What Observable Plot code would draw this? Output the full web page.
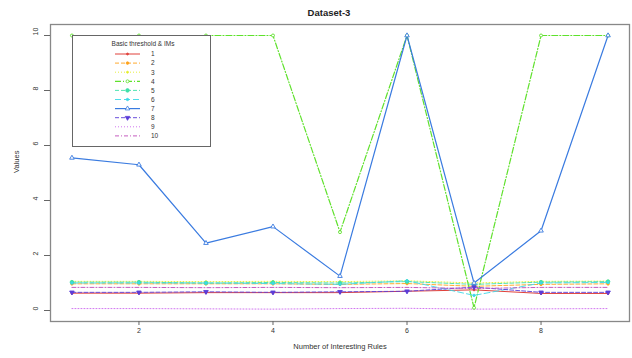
<!DOCTYPE html>
<html>
<head>
<meta charset="utf-8">
<script src="https://cdn.jsdelivr.net/npm/d3@7"></script>
<script src="https://cdn.jsdelivr.net/npm/@observablehq/plot@0.6"></script>
<style>
  html, body { margin: 0; padding: 0; background: #fff; }
  #wrap { position: relative; width: 632px; height: 358px; font-family: "Liberation Sans", Arial, sans-serif; }
  #legend { position: absolute; left: 72px; top: 35px; width: 139px; height: 112px; background: #fff; border: 1px solid #666; box-sizing: border-box; }
</style>
</head>
<body>
<div id="wrap"></div>
<script>
// ---- data ----
const xs = [1, 2, 3, 4, 5, 6, 7, 8, 9];
const seriesNames = ["1", "2", "3", "4", "5", "6", "7", "8", "9", "10"];
const s1  = [0.63, 0.63, 0.65, 0.65, 0.65, 0.70, 0.75, 0.62, 0.62];
const s2  = [0.97, 0.97, 0.97, 0.97, 0.95, 0.98, 0.88, 0.95, 0.97];
const s3  = [1.06, 1.06, 1.05, 1.06, 1.05, 1.08, 1.00, 1.06, 1.07];
const s4  = [10, 10, 10, 10, 2.85, 10, 0.10, 10, 10];
const s5  = [1.03, 1.03, 1.00, 1.02, 1.00, 1.05, 0.95, 1.03, 1.05];
const s6  = [1.00, 1.00, 1.00, 0.98, 0.95, 1.08, 0.55, 1.00, 1.02];
const s7  = [5.55, 5.30, 2.45, 3.05, 1.25, 10, 1.00, 2.90, 10];
const s8  = [0.66, 0.66, 0.68, 0.66, 0.68, 0.70, 0.85, 0.66, 0.66];
const s9  = [0.07, 0.07, 0.06, 0.05, 0.07, 0.08, 0.05, 0.06, 0.07];
const s10 = [0.84, 0.84, 0.83, 0.84, 0.83, 0.84, 0.80, 0.84, 0.84];
const seriesValues = [s1, s2, s3, s4, s5, s6, s7, s8, s9, s10];
const xTicks = [2, 4, 6, 8];
const yTicks = [0, 2, 4, 6, 8, 10];
const titleText = "Dataset-3";
const xLabel = "Number of Interesting Rules";
const yLabel = "Values";
const legendTitle = "Basic threshold & IMs";

// ---- styles ----
const colors = ["#e0403a", "#ffa21a", "#e4ee2a", "#5fe12c", "#3fe0a8", "#3cd8e6", "#3a7be0", "#5a3cd8", "#cc66ee", "#c04ab8"];
const dashes = [null, "4,2", "1,2", "6,2,1,2", "4,2", "6,3", null, "4,2", "1,2", "4,2,1,2"];
const widths = [1, 0.9, 0.9, 1.2, 0.9, 0.9, 1.2, 0.9, 0.9, 0.9];
const markers = [
  {symbol: "circle", r: 1.0, fill: true},
  {symbol: "circle", r: 1.3, fill: true},
  {symbol: "circle", r: 1.0, fill: true},
  {symbol: "circle", r: 1.5, fill: false},
  {symbol: "circle", r: 1.8, fill: true},
  {symbol: "circle", r: 1.2, fill: true},
  {symbol: "triangle", r: 1.7, fill: false},
  {symbol: "triangle", r: 1.7, fill: true, rotate: 180},
  null,
  null
];

const rows = seriesNames.flatMap((name, i) => xs.map((x, j) => ({series: name, x, y: seriesValues[i][j]})));

const marks = [];
seriesNames.forEach((name, i) => {
  const d = rows.filter(r => r.series === name);
  marks.push(Plot.line(d, {x: "x", y: "y", stroke: colors[i], strokeWidth: widths[i], strokeDasharray: dashes[i] || undefined}));
});
seriesNames.forEach((name, i) => {
  const m = markers[i];
  if (!m) return;
  const d = rows.filter(r => r.series === name);
  marks.push(Plot.dot(d, {
    x: "x", y: "y", symbol: m.symbol, r: m.r,
    fill: m.fill ? colors[i] : "white",
    stroke: colors[i], strokeWidth: 0.9,
    rotate: m.rotate || 0
  }));
});

const plot = Plot.plot({
  width: 632,
  height: 358,
  marginLeft: 50,
  marginRight: 3,
  marginTop: 24,
  marginBottom: 37,
  style: {fontFamily: "Liberation Sans, Arial, sans-serif", background: "#fff", color: "#333"},
  x: {domain: [0.68, 9.32]},
  y: {domain: [-0.4, 10.4]},
  marks: [
    ...marks,
    Plot.frame({stroke: "#888", strokeWidth: 1.3}),
    Plot.axisX(xTicks, {tickSize: 4, tickPadding: 3, fontSize: 7, label: null, stroke: "#666"}),
    Plot.axisY(yTicks, {tickSize: 6, tickFormat: () => "", label: null, stroke: "#666"}),
    Plot.text(yTicks, {y: d => d, text: d => String(d), frameAnchor: "left", dx: -15, rotate: -90, fontSize: 7, fill: "#333"}),
    Plot.text([yLabel], {text: d => d, frameAnchor: "left", dx: -34, rotate: -90, fontSize: 7.5, fill: "#333"}),
    Plot.text([xLabel], {text: d => d, frameAnchor: "bottom", dy: 27, fontSize: 7.5, fill: "#333"}),
    Plot.text([titleText], {text: d => d, frameAnchor: "top", dx: -11, dy: -15, fontSize: 9.5, fontWeight: "bold", fill: "#222"})
  ]
});

const wrap = document.getElementById("wrap");
wrap.appendChild(plot);

// ---- legend overlay ----
const leg = d3.select(wrap).append("div").attr("id", "legend");
const lsvg = leg.append("svg").attr("width", 137).attr("height", 110)
  .style("font-family", "Liberation Sans, Arial, sans-serif");
lsvg.append("text").attr("x", 70).attr("y", 10).attr("text-anchor", "middle")
  .attr("font-size", 6.5).attr("fill", "#333").text(legendTitle);
seriesNames.forEach((name, i) => {
  const y = 18 + i * 9.1;
  const g = lsvg.append("g");
  g.append("line").attr("x1", 42).attr("x2", 67).attr("y1", y).attr("y2", y)
    .attr("stroke", colors[i]).attr("stroke-width", widths[i])
    .attr("stroke-dasharray", dashes[i] || null);
  const m = markers[i];
  if (m) {
    const sym = d3.symbol(m.symbol === "triangle" ? d3.symbolTriangle : d3.symbolCircle, Math.PI * m.r * m.r)();
    g.append("path").attr("d", sym)
      .attr("transform", `translate(54.5,${y}) rotate(${m.rotate || 0})`)
      .attr("fill", m.fill ? colors[i] : "white").attr("stroke", colors[i]).attr("stroke-width", 0.8);
  }
  g.append("text").attr("x", 78).attr("y", y + 2.3).attr("font-size", 6.5).attr("fill", "#333").text(name);
});
</script>
</body>
</html>
